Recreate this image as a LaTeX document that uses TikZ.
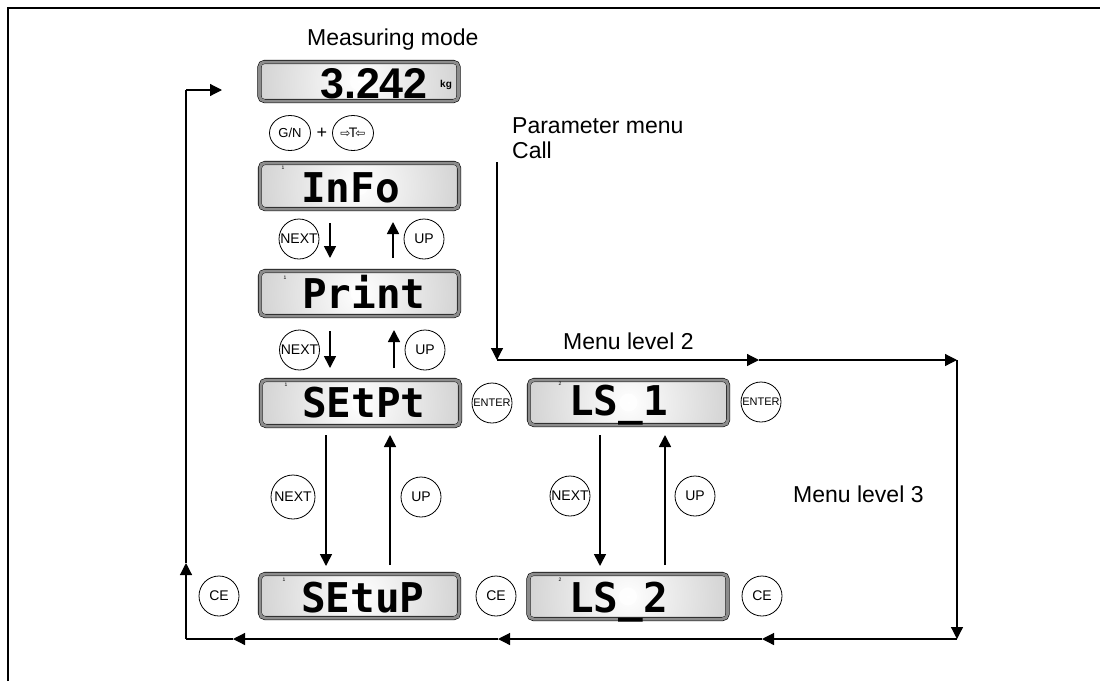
\documentclass[tikz,border=0pt]{standalone}
\usepackage{fontspec}
\setmainfont{Liberation Sans}
\newfontfamily\lcdfont{DejaVu Sans Mono}
\newfontfamily\symfont{DejaVu Sans}
\usetikzlibrary{arrows.meta,shapes.geometric}
\definecolor{lcdgray}{RGB}{198,198,198}
\definecolor{rimgray}{RGB}{140,140,140}
\tikzset{
  lcd/.style={draw=black, line width=0.6pt, double=rimgray, double distance=3pt,
    rounded corners=5pt, fill=lcdgray, inner sep=0pt, minimum width=199pt, minimum height=46pt},
  lcdtxt/.style={inner sep=0pt, font=\lcdfont\bfseries\fontsize{41}{41}\selectfont},
  numtxt/.style={inner sep=0pt, font=\bfseries\fontsize{43}{43}\selectfont},
  kgtxt/.style={inner sep=0pt, anchor=base west, font=\bfseries\fontsize{10}{10}\selectfont},
  idx/.style={inner sep=0pt, font=\fontsize{5}{5}\selectfont},
  btn/.style={draw, circle, fill=white, inner sep=0pt, minimum size=40pt, line width=0.8pt,
    font=\fontsize{14}{14}\selectfont},
  smallbtn/.style={btn, font=\fontsize{11}{11}\selectfont},
  ovalbtn/.style={draw, ellipse, fill=white, inner sep=0pt, minimum width=41pt, minimum height=35pt,
    line width=0.8pt, font=\fontsize{13}{13}\selectfont},
  label/.style={inner sep=0pt, anchor=base west, font=\fontsize{23}{23}\selectfont},
  arr/.style={line width=1.6pt, -{Triangle[length=12pt,width=12pt]}},
  flow/.style={line width=1.2pt},
  flowarr/.style={line width=1.2pt, -{Triangle[length=12pt,width=12pt]}},
}
\newcommand\lcdglow[1]{%
  \begin{scope}
    \clip[rounded corners=2.5pt] ([shift={(2.6,2.6)}]#1.north west) rectangle ([shift={(-2.6,-2.6)}]#1.south east);
    \shade[inner color=white, outer color=lcdgray] (#1.center) circle (130pt);
    \fill[white, opacity=0.8] (#1.center) circle (9pt);
  \end{scope}}
\begin{document}
\begin{tikzpicture}[x=1pt,y=-1pt]
\useasboundingbox (0,0) rectangle (1100,681);
% frame
\draw[line width=2pt] (8,681) -- (8,8) -- (1100,8);

% labels
\node[label] (lmeas) at (307,45) {Measuring mode};
\node[label] (lpar1) at (512,133) {Parameter menu};
\node[label] (lpar2) at (512,158) {Call};
\node[label] (lml2) at (563,349) {Menu level 2};
\node[label] (lml3) at (793,502) {Menu level 3};

% displays
\node[lcd, minimum height=39pt] (meas) at (359,81.5) {};
\node[lcd] (info) at (359.5,186) {};
\node[lcd, minimum height=45pt] (print) at (359.5,293.5) {};
\node[lcd] (setpt) at (360.5,403) {};
\node[lcd, minimum height=45pt] (ls1) at (628.5,402.5) {};
\node[lcd, minimum height=44pt] (setup) at (359.5,596) {};
\node[lcd, minimum height=45pt] (ls2) at (628,596.5) {};
\lcdglow{meas}\lcdglow{info}\lcdglow{print}\lcdglow{setpt}
\lcdglow{ls1}\lcdglow{setup}\lcdglow{ls2}

% display texts
\node[numtxt, anchor=base east] (meast) at (428,98) {3.242};
\node[kgtxt] (kg) at (440,87) {kg};
\node[lcdtxt, anchor=base west] (infot) at (301,202) {InFo};
\node[lcdtxt, anchor=base west] (printt) at (302,308) {Print};
\node[lcdtxt, anchor=base west] (setptt) at (302,417) {SEtPt};
\node[lcdtxt, anchor=base west] (ls1t) at (569,415) {LS\_1};
\node[lcdtxt, anchor=base west] (setupt) at (301,612) {SEtuP};
\node[lcdtxt, anchor=base west] (ls2t) at (569,612) {LS\_2};

\node[idx] (i1) at (283,168) {1};
\node[idx] (i2) at (285,278) {1};
\node[idx] (i3) at (286,385) {1};
\node[idx] (i4) at (284,580) {1};
\node[idx] (i5) at (560,384) {2};
\node[idx] (i6) at (560,580) {2};

% buttons
\node[ovalbtn] (gn) at (290,133) {G/N};
\node[inner sep=0pt, font=\fontsize{18}{18}\selectfont] (plus) at (322,133) {+};
\node[ovalbtn] (tare) at (353,133) {\symfont\fontsize{12}{12}\selectfont ⇨\hspace{-1.5pt}\fontsize{13}{13}\selectfont T\hspace{-1.5pt}\fontsize{12}{12}\selectfont ⇦};
\node[btn] (next1) at (299,239) {NEXT};
\node[btn] (up1) at (424,239) {UP};
\node[btn] (next2) at (299.5,350) {NEXT};
\node[btn] (up2) at (425,350) {UP};
\node[btn, minimum size=44pt] (next3) at (293,497) {NEXT};
\node[btn] (up3) at (421,497) {UP};
\node[btn] (next4) at (570,496) {NEXT};
\node[btn] (up4) at (695,496) {UP};
\node[smallbtn] (enter1) at (492,403) {ENTER};
\node[smallbtn] (enter2) at (761,402) {ENTER};
\node[btn] (ce1) at (219,596) {CE};
\node[btn] (ce2) at (496,596) {CE};
\node[btn] (ce3) at (762,596) {CE};

% short arrows between displays
\coordinate (a1s) at (330,223); \coordinate (a1e) at (330,258);
\coordinate (a2s) at (393,258); \coordinate (a2e) at (393,222);
\coordinate (a3s) at (330,331); \coordinate (a3e) at (330,368);
\coordinate (a4s) at (394,368); \coordinate (a4e) at (394,330);
\coordinate (a5s) at (326,435); \coordinate (a5e) at (326,566);
\coordinate (a6s) at (390,565); \coordinate (a6e) at (390,435);
\coordinate (a7s) at (600,435); \coordinate (a7e) at (600,566);
\coordinate (a8s) at (665,565); \coordinate (a8e) at (665,435);
\draw[arr] (a1s) -- (a1e);
\draw[arr] (a2s) -- (a2e);
\draw[arr] (a3s) -- (a3e);
\draw[arr] (a4s) -- (a4e);
\draw[arr] (a5s) -- (a5e);
\draw[arr] (a6s) -- (a6e);
\draw[arr] (a7s) -- (a7e);
\draw[arr] (a8s) -- (a8e);

% main flow
\coordinate (callTop) at (497,162);
\coordinate (c1) at (497,360);
\coordinate (m1) at (759,360);
\coordinate (c2) at (957,360);
\coordinate (c3) at (957,639);
\coordinate (m2) at (762,639);
\coordinate (m3) at (498,639);
\coordinate (m4) at (233,639);
\coordinate (c4) at (186,639);
\coordinate (m5) at (186,563);
\coordinate (c5) at (186,90);
\coordinate (m6) at (222,90);
\draw[flowarr] (callTop) -- (c1);
\draw[flowarr] (c1) -- (m1);
\draw[flowarr] (m1) -- (c2);
\draw[flowarr] (c2) -- (c3);
\draw[flowarr] (c3) -- (m2);
\draw[flowarr] (m2) -- (m3);
\draw[flowarr] (m3) -- (m4);
\draw[flow] (m4) -- (c4);
\draw[flowarr] (c4) -- (m5);
\draw[flow] (m5) -- (c5);
\draw[flowarr] (c5) -- (m6);
\end{tikzpicture}
\end{document}
